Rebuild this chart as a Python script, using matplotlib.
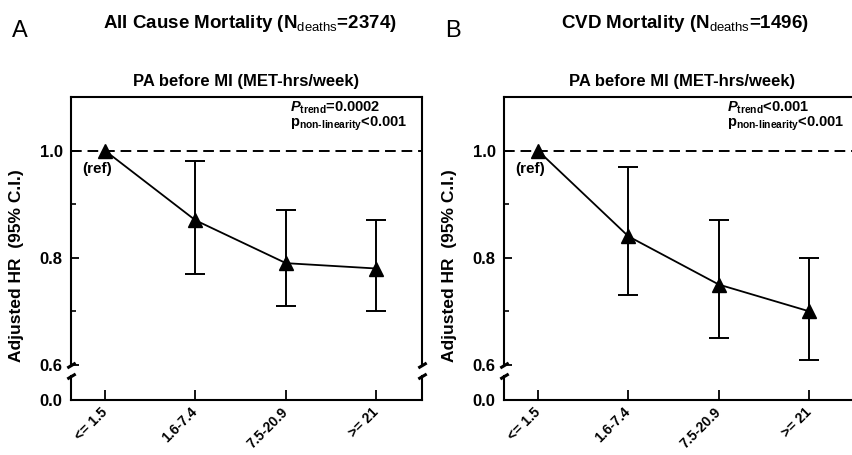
import matplotlib
matplotlib.use("Agg")
import matplotlib.pyplot as plt
import numpy as np

plt.rcParams['font.family'] = ['Liberation Sans', 'DejaVu Sans']
plt.rcParams['mathtext.fontset'] = 'custom'
plt.rcParams['mathtext.rm'] = 'Liberation Sans:bold'
plt.rcParams['mathtext.bf'] = 'Liberation Sans:bold'
plt.rcParams['mathtext.it'] = 'Liberation Sans:italic:bold'
plt.rcParams['mathtext.sf'] = 'Liberation Sans'

categories = ["<= 1.5", "1.6-7.4", "7.5-20.9", ">= 21"]

hr_all = [1.00, 0.87, 0.79, 0.78]
lo_all = [1.00, 0.77, 0.71, 0.70]
hi_all = [1.00, 0.98, 0.89, 0.87]

hr_cvd = [1.00, 0.84, 0.75, 0.70]
lo_cvd = [1.00, 0.73, 0.65, 0.61]
hi_cvd = [1.00, 0.97, 0.87, 0.80]

panel_labels = ["A", "B"]
titles = [r"All Cause Mortality (N$_{\mathsf{deaths}}$=2374)",
          r"CVD Mortality (N$_{\mathsf{deaths}}$=1496)"]
subtitle = "PA before MI (MET-hrs/week)"
ptrend = [r"$\mathit{P}_{\mathbf{trend}}$=0.0002", r"$\mathit{P}_{\mathbf{trend}}$<0.001"]
pnonlin = [r"p$_{\text{non-linearity}}$<0.001", r"p$_{\text{non-linearity}}$<0.001"]
ylabel = "Adjusted HR  (95% C.I.)"

W, H = 853, 455
fig = plt.figure(figsize=(W / 100, H / 100), dpi=100)

panel_left_px = [71, 504]
panel_w_px = [351, 357]
up_bot = 1 - 365 / H
up_top = 1 - 97 / H
lo_bot = 1 - 400 / H
lo_top = 1 - 376 / H

data = [(hr_all, lo_all, hi_all), (hr_cvd, lo_cvd, hi_cvd)]
x = np.arange(len(categories))
lw = 1.5

for i in range(2):
    left = panel_left_px[i] / W
    axw = panel_w_px[i] / W
    xmax = -0.375 + panel_w_px[i] / 90.5
    ax = fig.add_axes([left, up_bot, axw, up_top - up_bot])
    axl = fig.add_axes([left, lo_bot, axw, lo_top - lo_bot])
    hr, lo, hi = data[i]
    hr = np.array(hr); lo = np.array(lo); hi = np.array(hi)

    ax.axhline(1.0, color='black', lw=1.4, ls=(0, (5.5, 3)), zorder=1)
    ax.plot(x, hr, color='black', lw=1.3, zorder=3)
    ax.errorbar(x[1:], hr[1:], yerr=[hr[1:] - lo[1:], hi[1:] - hr[1:]],
                fmt='none', ecolor='black', elinewidth=1.4, capsize=7, capthick=1.4, zorder=2)
    ax.plot(x, hr, ls='none', marker='^', ms=10, color='black', zorder=4, clip_on=False)
    ax.text(-0.09, 0.966, "(ref)", ha='center', va='center', fontsize=11, fontweight='bold')

    ax.set_xlim(-0.375, xmax)
    ax.set_ylim(0.6, 1.1)
    ax.set_yticks([0.6, 0.8, 1.0])
    ax.set_yticks([0.7, 0.9], minor=True)
    ax.set_yticklabels(["0.6", "0.8", "1.0"], fontsize=12, fontweight='bold')
    ax.set_xticks([])
    ax.tick_params(axis='y', which='major', direction='in', length=6, width=1.3, pad=6)
    ax.tick_params(axis='y', which='minor', direction='in', length=3.5, width=1.2)
    for s in ['left', 'right', 'top']:
        ax.spines[s].set_linewidth(lw)
    ax.spines['bottom'].set_visible(False)
    ax.set_title(subtitle, fontsize=12, fontweight='bold', pad=8)

    tx = (290 - 71) / 351 if i == 0 else (727 - 504) / panel_w_px[1]
    ax.text(tx, 1 - 11 / 268, ptrend[i], transform=ax.transAxes,
            ha='left', va='center', fontsize=10.5, fontweight='bold')
    ax.text(tx, 1 - 27 / 268, pnonlin[i], transform=ax.transAxes,
            ha='left', va='center', fontsize=10.5, fontweight='bold')

    axl.set_xlim(-0.375, xmax)
    axl.set_ylim(0, 1)
    axl.set_yticks([0])
    axl.set_yticklabels(["0.0"], fontsize=12, fontweight='bold')
    axl.set_xticks(x)
    axl.set_xticklabels(categories, rotation=45, ha='right', va='center',
                        rotation_mode='anchor', fontsize=10, fontweight='bold')
    axl.tick_params(axis='x', direction='in', length=7, width=1.3, pad=7)
    axl.tick_params(axis='y', direction='in', length=0, pad=6)
    for s in ['left', 'right', 'bottom']:
        axl.spines[s].set_linewidth(lw)
    axl.spines['top'].set_visible(False)

    kw = dict(marker=[(-1, -0.6), (1, 0.6)], markersize=6, ls='none', color='k',
              mec='k', mew=2.2, clip_on=False)
    ax.plot([0, 1], [0, 0], transform=ax.transAxes, **kw)
    axl.plot([0, 1], [1, 1], transform=axl.transAxes, **kw)

    fig.text((12 + 433 * i) / W, 1 - 37 / H, panel_labels[i], fontsize=17,
             ha='left', va='baseline')
    fig.text(250 / W if i == 0 else 685 / W, 1 - 28 / H, titles[i],
             fontsize=13.5, fontweight='bold', ha='center', va='baseline')
    fig.text((17 + 433 * i) / W, 1 - 266 / H, ylabel, rotation=90, fontsize=12.5,
             fontweight='bold', ha='center', va='center')

fig.savefig("out.png", dpi=100)
